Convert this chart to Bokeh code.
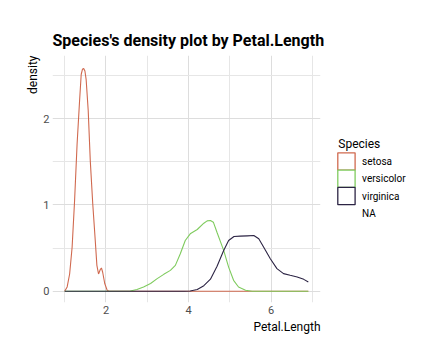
from bokeh.plotting import figure
from bokeh.models import Range1d, FixedTicker, Title
from bokeh.layouts import row
from bokeh.core.properties import value
from bokeh.embed import file_html
from bokeh.resources import INLINE

# ---- data ----
species = ["setosa", "versicolor", "virginica"]
legend_labels = ["setosa", "versicolor", "virginica", "NA"]
colors = ["#D0694F", "#7FCB5E", "#2C2444"]

setosa_x = [1.0, 1.06, 1.12, 1.18, 1.24, 1.30, 1.36, 1.40, 1.43, 1.46, 1.49, 1.52,
            1.57, 1.62, 1.68, 1.74, 1.78, 1.82, 1.86, 1.89, 1.92, 1.97, 2.03, 2.08,
            3.0, 4.0, 5.0, 6.0, 6.9]
setosa_y = [0.0, 0.05, 0.20, 0.51, 1.05, 1.70, 2.20, 2.51, 2.57, 2.58, 2.55, 2.45,
            2.09, 1.51, 1.01, 0.59, 0.30, 0.20, 0.25, 0.27, 0.22, 0.09, 0.01, 0.0,
            0.0, 0.0, 0.0, 0.0, 0.0]

versicolor_x = [1.0, 2.0, 2.59, 2.75, 2.91, 3.08, 3.24, 3.40, 3.56, 3.68, 3.80, 3.92,
                4.04, 4.21, 4.37, 4.45, 4.53, 4.60, 4.69, 4.85, 4.97, 5.09, 5.21,
                5.38, 5.54, 6.0, 6.9]
versicolor_y = [0.0, 0.0, 0.003, 0.02, 0.05, 0.09, 0.146, 0.196, 0.242, 0.30, 0.435,
                0.588, 0.665, 0.715, 0.788, 0.815, 0.82, 0.80, 0.68, 0.473, 0.28,
                0.127, 0.05, 0.012, 0.0, 0.0, 0.0]

virginica_x = [1.0, 2.0, 3.0, 3.9, 4.04, 4.21, 4.37, 4.53, 4.69, 4.85, 4.97, 5.10,
               5.25, 5.42, 5.58, 5.70, 5.82, 5.98, 6.14, 6.30, 6.46, 6.63, 6.79, 6.9]
virginica_y = [0.0, 0.0, 0.0, 0.0, 0.003, 0.02, 0.065, 0.14, 0.29, 0.473, 0.588,
               0.634, 0.638, 0.642, 0.646, 0.608, 0.51, 0.377, 0.262, 0.204, 0.185,
               0.165, 0.138, 0.107]

x_ticks = [2, 4, 6]
x_minor = [1, 3, 5, 7]
y_ticks = [0, 1, 2]
y_minor = [0.5, 1.5, 2.5]

series_x = [setosa_x, versicolor_x, virginica_x]
series_y = [setosa_y, versicolor_y, virginica_y]

FONT = "Roboto"
TOTAL_H = 352
MAIN_W = 324
LEG_W = 100
B_TOP = 55
B_BOTTOM = 50

# ---------------- main plot ----------------
p = figure(width=MAIN_W, height=TOTAL_H, output_backend="svg", toolbar_location=None,
           x_range=Range1d(0.705, 7.195), y_range=Range1d(-0.13, 2.73),
           min_border_left=52, min_border_right=4, min_border_top=B_TOP,
           min_border_bottom=B_BOTTOM)
p.outline_line_color = None
p.background_fill_color = "white"
p.border_fill_color = "white"

p.title = Title(text="Species's density plot by Petal.Length", align="left",
                text_font=FONT, text_font_size="16px", text_font_style="bold",
                text_color="black", standoff=11)

for ax in (p.xaxis[0], p.yaxis[0]):
    ax.axis_line_color = None
    ax.major_tick_line_color = None
    ax.minor_tick_line_color = None
    ax.major_tick_out = 0
    ax.major_tick_in = 0
    ax.minor_tick_out = 0
    ax.minor_tick_in = 0
    ax.major_label_text_font = FONT
    ax.major_label_text_font_size = "11px"
    ax.major_label_text_color = "#4D4D4D"
    ax.major_label_standoff = 3
p.xaxis[0].ticker = FixedTicker(ticks=x_ticks, minor_ticks=x_minor)
p.yaxis[0].ticker = FixedTicker(ticks=y_ticks, minor_ticks=y_minor)

for g in (p.xgrid[0], p.ygrid[0]):
    g.grid_line_color = "#DDDDDD"
    g.grid_line_width = 1
    g.minor_grid_line_color = "#E6E6E6"
    g.minor_grid_line_width = 1

p.add_layout(Title(text="Petal.Length", align="right", text_font=FONT,
                   text_font_size="12px", text_font_style="normal",
                   text_color="black", standoff=3), "below")
p.add_layout(Title(text="density", align="right", text_font=FONT,
                   text_font_size="12px", text_font_style="normal",
                   text_color="black", standoff=2), "left")

for xs, ys, c in zip(series_x, series_y, colors):
    p.line(xs, ys, line_color=c, line_width=1.1)

# ---------------- legend panel (page-pixel coordinates) ----------------
frame_top = B_TOP
frame_bottom = TOTAL_H - B_BOTTOM
lg = figure(width=LEG_W, height=TOTAL_H, output_backend="svg", toolbar_location=None,
            x_range=Range1d(MAIN_W, MAIN_W + LEG_W),
            y_range=Range1d(frame_bottom, frame_top),
            x_axis_location=None, y_axis_location=None,
            min_border_left=0, min_border_right=0,
            min_border_top=B_TOP, min_border_bottom=B_BOTTOM)
lg.outline_line_color = None
lg.grid.visible = False
lg.background_fill_color = "white"
lg.border_fill_color = "white"

key = 17.3          # key box size / row pitch
key_left = 337.3
first_top = 152.3

n = len(species)
lefts = [key_left] * n
rights = [key_left + key] * n
tops = [first_top + i * key for i in range(n)]
bottoms = [t + key for t in tops]
lg.quad(left=lefts, right=rights, top=tops, bottom=bottoms,
        fill_color="white", line_color=colors, line_width=1.3)

lab_x = [key_left + key + 7] * len(legend_labels)
lab_y = [first_top + key / 2 + i * key for i in range(len(legend_labels))]
lg.text(x=lab_x, y=lab_y, text=legend_labels, text_font=value(FONT),
        text_font_size="10px", text_color="black", text_baseline="middle",
        text_align="left")
lg.text(x=[key_left + 0.5], y=[first_top - 9], text=["Species"],
        text_font=value(FONT), text_font_size="12px", text_color="black",
        text_baseline="middle", text_align="left")

page = row(p, lg)
open("out.html", "w").write(file_html(page, INLINE))
